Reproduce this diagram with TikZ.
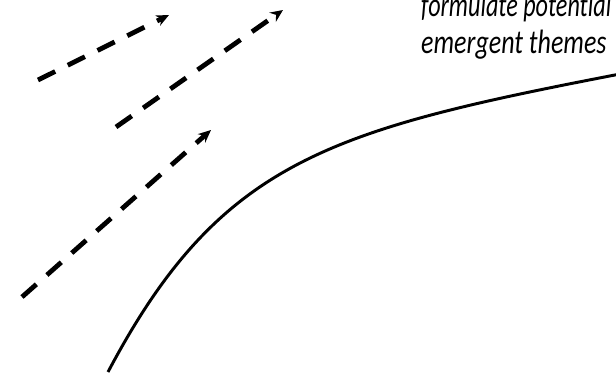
\documentclass[tikz,border=0pt]{standalone}
\usepackage{fontspec}
\setmainfont[Ligatures=NoCommon]{Carlito}
\usetikzlibrary{arrows.meta}

\begin{document}
\begin{tikzpicture}[
  x=0.025cm, y=-0.025cm,
  >={Stealth[length=9pt, width=8pt, inset=3pt]},
  flow/.style={->, line width=3.4pt, dash pattern=on 0.48cm off 0.35cm},
  trend/.style={line width=2.1pt},
  note/.style={font=\fontsize{24}{28}\selectfont\itshape, inner sep=0pt,
               anchor=base west, xscale=0.77, transform shape},
]
\useasboundingbox (0,0) rectangle (616,375);

\coordinate (a1) at (38,80);   \coordinate (b1) at (169,15);
\coordinate (a2) at (116,127); \coordinate (b2) at (283,10);
\coordinate (a3) at (22,297);  \coordinate (b3) at (211,130);

\draw[flow] (a1) -- (b1);
\draw[flow] (a2) -- (b2);
\draw[flow] (a3) -- (b3);

% growth curve
\coordinate (start) at (108,372);
\coordinate (stop) at (620,74);
\draw[trend] (start) .. controls (220,160) and (330,130) .. (stop);

\node[note, xscale=0.93] (line1) at (421,17) {formulate potential};
\node[note] (line2) at (421,53) {emergent themes};
\end{tikzpicture}
\end{document}
